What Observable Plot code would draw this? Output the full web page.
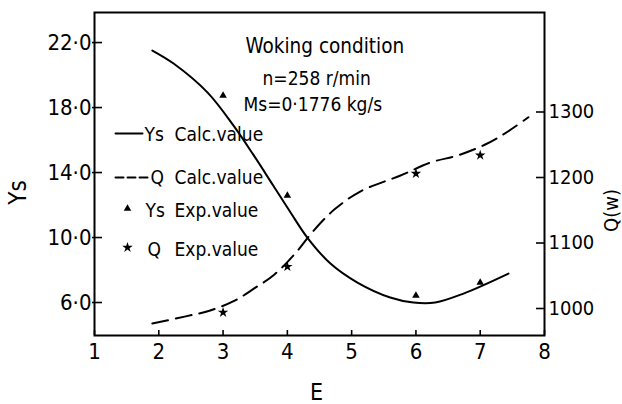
<!DOCTYPE html>
<html><head><meta charset="utf-8">
<script src="https://cdn.jsdelivr.net/npm/d3@7"></script>
<script src="https://cdn.jsdelivr.net/npm/@observablehq/plot@0.6"></script>
<style>
html,body{margin:0;padding:0;background:#fff;}
#chart{width:622px;height:404px;overflow:hidden;}
svg{font-stretch:condensed;}
</style></head><body><div id="chart"></div>
<script>
// ---- data ----
const ysCalcE = [1.90, 2.23, 2.76, 3.16, 3.47, 3.78, 4.05, 4.31, 4.67, 5.09, 5.60, 5.96, 6.30, 6.74, 7.44];
const ysCalc  = [21.51, 20.71, 18.92, 16.9, 15.1, 13.2, 11.54, 10.0, 8.4, 7.23, 6.31, 6.0, 6.0, 6.55, 7.78];
const qCalcE  = [1.90, 2.42, 2.80, 3.18, 3.49, 3.80, 4.13, 4.41, 4.73, 5.14, 5.76, 6.23, 6.66, 7.07, 7.38, 7.75];
const qCalc   = [977, 988, 997, 1012, 1031, 1052, 1085, 1119, 1151, 1179, 1203, 1223, 1234, 1250, 1267, 1292];
const expE    = [3, 4, 6, 7];
const ysExp   = [18.74, 12.58, 6.43, 7.23];
const qExp    = [994, 1064, 1206, 1234];
const xTicks  = [1, 2, 3, 4, 5, 6, 7, 8];
const yTicks  = [6, 10, 14, 18, 22];
const qTicks  = [1000, 1100, 1200, 1300];
const annotation = ["Woking condition", "n=258 r/min", "Ms=0·1776 kg/s"];
const legendNames = ["Ys", "Q", "Ys", "Q"];
const legendDescs = ["Calc.value", "Calc.value", "Exp.value", "Exp.value"];
const axisTitles = ["Ys", "Q(w)", "E"];

// ---- layout ----
const W = 622, H = 404, mL = 94, mR = 78, mT = 12, mB = 69;
const xDomain = [1, 8];
const yDomain = [3.97, 23.85];
const qDomain = [958.8, 1451.9];
const qToY = d3.scaleLinear(qDomain, yDomain);
const px = d3.scaleLinear(xDomain, [mL, W - mR]);
const py = d3.scaleLinear(yDomain, [H - mB, mT]);
const FONT = "'DejaVu Sans Condensed','DejaVu Sans','Liberation Sans Narrow',sans-serif";

const ysCalcData = ysCalcE.map((e, i) => ({e, v: ysCalc[i]}));
const qCalcData = qCalcE.map((e, i) => ({e, v: qToY(qCalc[i])}));
const ysExpData = expE.map((e, i) => ({e, v: ysExp[i]}));
const qExpData = expE.map((e, i) => ({e, v: qToY(qExp[i])}));

// legend layout (pixels)
const legRowY = [134, 177, 210, 249];
const legNameX = [144, 150, 145, 147];
const legDescX = 174;
const legend = legendNames.map((n, i) => ({name: n, desc: legendDescs[i], i}));

const annX = [245, 262, 243];
const annY = [46, 78, 104];
const annSize = [20.5, 19, 19];

// axis titles layout (pixels)
const titlePos = [[18, 192, -90, 24], [611, 210, -90, 20], [316, 392, 0, 23]];

const marks = [
  Plot.frame({stroke: "black", strokeWidth: 2}),
  // inward ticks
  Plot.ruleX(xTicks, {x: d => d, y1: yDomain[0], y2: py.invert(H - mB - 5), stroke: "black", strokeWidth: 1.6}),
  Plot.ruleY(yTicks, {y: d => d, x1: px.invert(mL - 2), x2: px.invert(mL + 8), stroke: "black", strokeWidth: 1.6}),
  Plot.ruleY(qTicks, {y: d => qToY(d), x1: px.invert(W - mR - 8), x2: px.invert(W - mR + 1), stroke: "black", strokeWidth: 1.6}),
  Plot.axisX(xTicks, {tickSize: 0, tickPadding: 8, fontSize: 22, label: null}),
  Plot.axisY(yTicks, {anchor: "left", tickSize: 0, tickPadding: 3, fontSize: 22, label: null,
    tickFormat: d => d.toFixed(1).replace(".", "·")}),
  Plot.axisY(qTicks.map(q => qToY(q)), {anchor: "right", tickSize: 0, tickPadding: 4, fontSize: 20, label: null,
    tickFormat: d => String(Math.round(qToY.invert(d)))}),
  // curves
  Plot.line(ysCalcData, {x: "e", y: "v", curve: "catmull-rom", stroke: "black", strokeWidth: 2}),
  Plot.line(qCalcData, {x: "e", y: "v", curve: "catmull-rom", stroke: "black", strokeWidth: 2, strokeDasharray: "16,8"}),
  Plot.dot(ysExpData, {x: "e", y: "v", symbol: "triangle", r: 2.8, fill: "black", stroke: "none"}),
  Plot.dot(qExpData, {x: "e", y: "v", symbol: "star", r: 3.3, fill: "black", stroke: "none"}),
  // annotation
  ...annotation.map((t, i) => Plot.text([t], {x: px.invert(annX[i]), y: py.invert(annY[i]), text: d => d,
    textAnchor: "start", lineAnchor: "middle", fontSize: annSize[i], fill: "black"})),
  // legend
  Plot.line([[115, 133], [142, 133]], {x: d => px.invert(d[0]), y: d => py.invert(d[1]), stroke: "black", strokeWidth: 2}),
  Plot.line([[115, 177], [148, 177]], {x: d => px.invert(d[0]), y: d => py.invert(d[1]), stroke: "black", strokeWidth: 2, strokeDasharray: "8,4"}),
  Plot.dot([[127, 208]], {x: d => px.invert(d[0]), y: d => py.invert(d[1]), symbol: "triangle", r: 2.8, fill: "black", stroke: "none"}),
  Plot.dot([[127, 247]], {x: d => px.invert(d[0]), y: d => py.invert(d[1]), symbol: "star", r: 3.3, fill: "black", stroke: "none"}),
  Plot.text(legend, {x: d => px.invert(legNameX[d.i]), y: d => py.invert(legRowY[d.i]), text: "name",
    textAnchor: "start", lineAnchor: "middle", fontSize: 19, fill: "black"}),
  Plot.text(legend, {x: d => px.invert(legDescX), y: d => py.invert(legRowY[d.i]), text: "desc",
    textAnchor: "start", lineAnchor: "middle", fontSize: 19, fill: "black"}),
  // axis titles
  ...axisTitles.map((t, i) => Plot.text([t], {x: px.invert(titlePos[i][0]), y: py.invert(titlePos[i][1]),
    rotate: titlePos[i][2], text: d => d, fontSize: titlePos[i][3], fill: "black",
    textAnchor: "middle", lineAnchor: "middle"}))
];

const chart = Plot.plot({
  width: W, height: H,
  marginLeft: mL, marginRight: mR, marginTop: mT, marginBottom: mB,
  x: {domain: xDomain},
  y: {domain: yDomain},
  style: {fontFamily: FONT, fontSize: "20px", color: "black", background: "white", overflow: "visible"},
  marks
});
document.getElementById("chart").appendChild(chart);
</script>
</body></html>
